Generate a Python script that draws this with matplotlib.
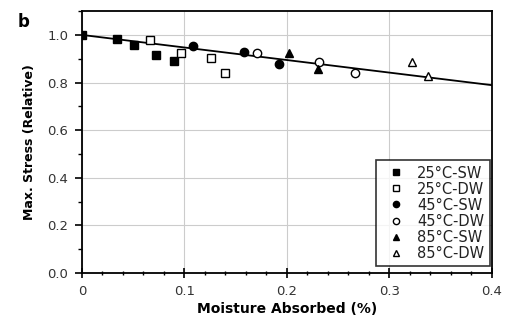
import matplotlib.pyplot as plt
from matplotlib.ticker import MultipleLocator

# data
sw25_x = [0.0, 0.034, 0.051, 0.072, 0.090]
sw25_y = [1.0, 0.985, 0.958, 0.915, 0.891]
dw25_x = [0.066, 0.097, 0.126, 0.140]
dw25_y = [0.978, 0.926, 0.905, 0.842]
sw45_x = [0.108, 0.158, 0.192]
sw45_y = [0.954, 0.929, 0.880]
dw45_x = [0.171, 0.231, 0.266]
dw45_y = [0.926, 0.886, 0.841]
sw85_x = [0.202, 0.230]
sw85_y = [0.923, 0.859]
dw85_x = [0.322, 0.338]
dw85_y = [0.887, 0.827]
fit_x = [0.0, 0.4]
fit_y = [1.0, 0.789]

plt.rcParams['font.family'] = ['DejaVu Sans']
plt.rcParams['font.size'] = 9.5

fig = plt.figure(figsize=(5.17, 3.27), dpi=100)
ax = fig.add_axes([0.1586, 0.165, 0.793, 0.801])

ax.grid(True, which='major', color='#cccccc', linewidth=0.8)
ax.set_axisbelow(True)

ax.plot(fit_x, fit_y, color='black', linewidth=1.3, zorder=2)

ms = 6
ax.plot(sw25_x, sw25_y, 's', color='black', ms=ms, label='25°C-SW', zorder=3)
ax.plot(dw25_x, dw25_y, 's', mfc='white', mec='black', mew=1.0, ms=ms, label='25°C-DW', zorder=3)
ax.plot(sw45_x, sw45_y, 'o', color='black', ms=ms, label='45°C-SW', zorder=3)
ax.plot(dw45_x, dw45_y, 'o', mfc='white', mec='black', mew=1.0, ms=ms, label='45°C-DW', zorder=3)
ax.plot(sw85_x, sw85_y, '^', color='black', ms=ms, label='85°C-SW', zorder=3)
ax.plot(dw85_x, dw85_y, '^', mfc='white', mec='black', mew=1.0, ms=ms, label='85°C-DW', zorder=3)

ax.set_xlim(0, 0.4)
ax.set_ylim(0, 1.1)
ax.set_xticks([0, 0.1, 0.2, 0.3, 0.4])
ax.set_xticklabels(['0', '0.1', '0.2', '0.3', '0.4'])
ax.set_yticks([0.0, 0.2, 0.4, 0.6, 0.8, 1.0])
ax.set_yticklabels(['0.0', '0.2', '0.4', '0.6', '0.8', '1.0'])
ax.xaxis.set_minor_locator(MultipleLocator(0.02))
ax.yaxis.set_minor_locator(MultipleLocator(0.1))
ax.tick_params(axis='x', which='major', direction='inout', length=7, width=1.2,
               pad=5, labelsize=9.5, labelcolor='#333333')
ax.tick_params(axis='x', which='minor', direction='inout', length=3, width=1.0)
ax.tick_params(axis='y', which='major', direction='out', length=5, width=1.2,
               pad=5, labelsize=9.5, labelcolor='#333333')
ax.tick_params(axis='y', which='minor', direction='out', length=3, width=1.0)
for s in ax.spines.values():
    s.set_linewidth(1.3)

ax.set_xlabel('Moisture Absorbed (%)', fontweight='bold', fontsize=10, labelpad=3)
ax.set_ylabel('Max. Stress (Relative)', fontweight='bold', fontsize=9, labelpad=8)

leg = ax.legend(loc='lower right', frameon=True, fancybox=False, edgecolor='black',
                fontsize=10.5, handletextpad=0.4, borderpad=0.4, labelspacing=0.07,
                handlelength=2.0, markerscale=0.75, borderaxespad=0,
                bbox_to_anchor=(0.995, 0.025))
leg.get_frame().set_linewidth(1.2)
for t in leg.get_texts():
    t.set_color('#222222')

fig.text(0.035, 0.917, 'b', fontsize=12, fontweight='bold')

fig.savefig('out.png', dpi=100)
